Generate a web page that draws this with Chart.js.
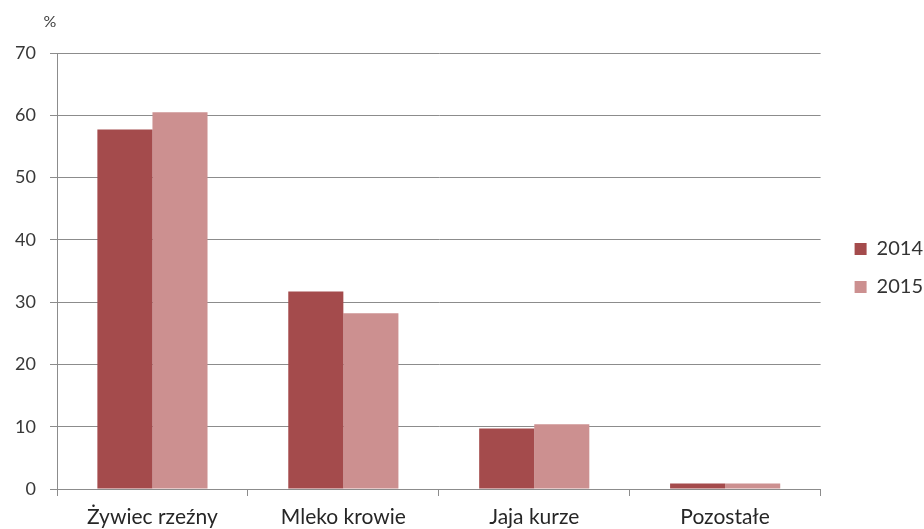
<!doctype html>
<html lang="pl">
<head>
    <meta charset="utf-8">
    <title>Struktura produkcji zwierzęcej</title>
    <style>
        body { margin: 0; background: #fff; }
    </style>
</head>
<body>
    <canvas id="myChart" width="924" height="529"></canvas>

    <script src="https://cdn.jsdelivr.net/npm/chart.js"></script>
    <script>
        // setup
        const categories = ['Żywiec rzeźny', 'Mleko krowie', 'Jaja kurze', 'Pozostałe'];
        const values2014 = [57.7, 31.7, 9.7, 0.9];
        const values2015 = [60.5, 28.2, 10.4, 0.9];
        const yTicks = [0, 10, 20, 30, 40, 50, 60, 70];

        const data = {
            labels: categories,
            datasets: [{
                label: '2014',
                data: values2014,
                backgroundColor: '#a44b4c'
            }, {
                label: '2015',
                data: values2015,
                backgroundColor: '#cc9090'
            }]
        };

        // "%" above the y axis
        const unitLabel = {
            id: 'unitLabel',
            afterDraw: (chart) => {
                const ctx = chart.ctx;
                ctx.save();
                ctx.fillStyle = '#404040';
                ctx.font = '16px Lato';
                ctx.textAlign = 'center';
                ctx.textBaseline = 'middle';
                ctx.fillText('%', chart.chartArea.left - 7, 22);
                ctx.restore();
            }
        };

        // nudge the legend to sit like the original (closer to the right edge, a bit higher)
        const legendNudge = {
            id: 'legendNudge',
            afterLayout: (chart) => {
                const lg = chart.legend;
                lg.left += 16; lg.right += 16;
                lg.top -= 23; lg.bottom -= 23;
            }
        };

        // config
        const config = {
            type: 'bar',
            data,
            plugins: [unitLabel, legendNudge],
            options: {
                responsive: false,
                animation: false,
                layout: {
                    padding: { top: 53, left: 0, right: 7, bottom: 0 }
                },
                datasets: {
                    bar: {
                        categoryPercentage: 0.577,
                        barPercentage: 1
                    }
                },
                plugins: {
                    legend: {
                        position: 'right',
                        labels: {
                            boxWidth: 12,
                            boxHeight: 12,
                            padding: 18,
                            color: '#333333',
                            font: { family: 'Lato', size: 20 }
                        }
                    },
                    tooltip: { enabled: false }
                },
                scales: {
                    x: {
                        afterFit: (scale) => { scale.height = 40; },
                        grid: {
                            offset: true,
                            drawOnChartArea: false,
                            tickLength: 7,
                            color: '#8c8c8c'
                        },
                        border: { color: '#8c8c8c' },
                        ticks: {
                            color: '#262626',
                            padding: 9,
                            font: { family: 'Lato', size: 21 }
                        }
                    },
                    y: {
                        min: 0,
                        max: 70,
                        afterFit: (scale) => { scale.width = 57; },
                        afterBuildTicks: (scale) => {
                            scale.ticks = yTicks.map(v => ({ value: v }));
                        },
                        grid: {
                            color: '#8c8c8c',
                            tickLength: 7
                        },
                        border: { color: '#8c8c8c' },
                        ticks: {
                            color: '#383838',
                            padding: 14,
                            font: { family: 'Lato', size: 18 }
                        }
                    }
                }
            }
        };

        // render init block
        const myChart = new Chart(
            document.getElementById('myChart'),
            config
        );
    </script>
</body>
</html>
